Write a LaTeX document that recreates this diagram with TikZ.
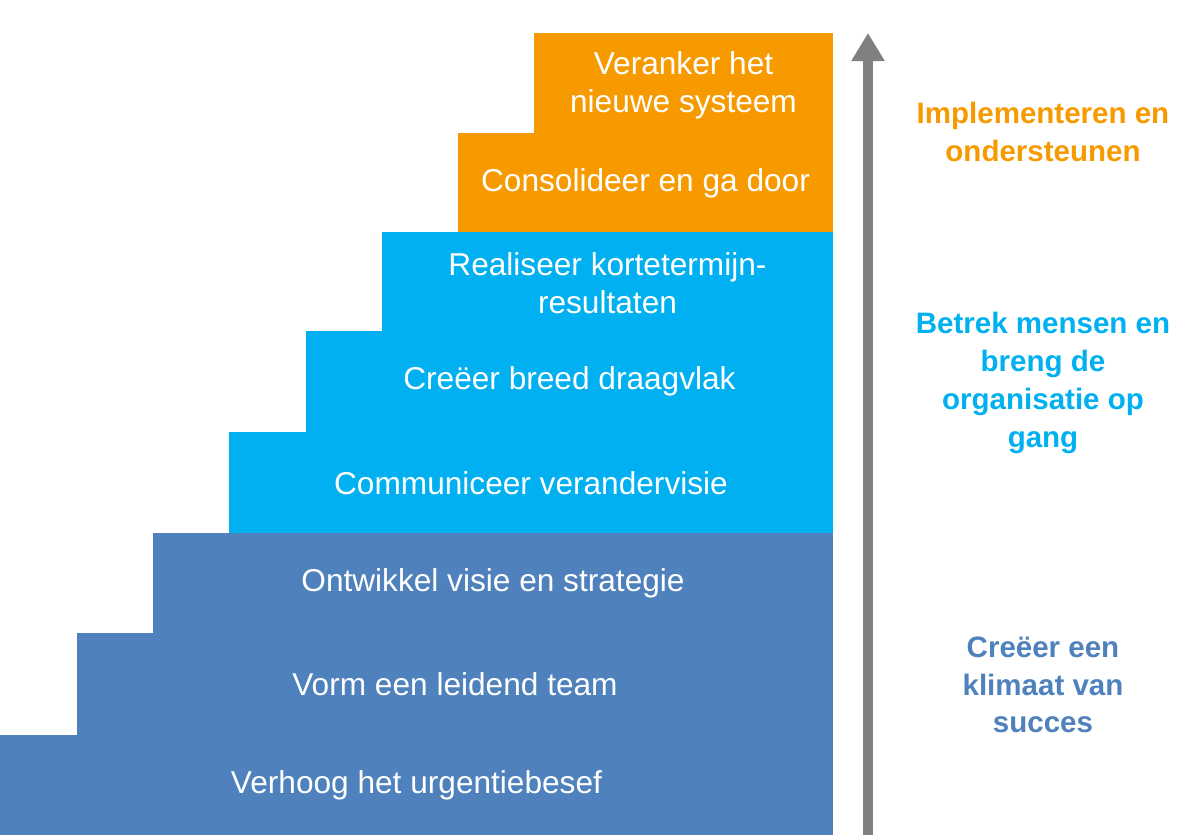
\documentclass[tikz,border=0pt]{standalone}
\usepackage{fontspec}
\setmainfont{Liberation Sans}
\usetikzlibrary{arrows.meta}
\definecolor{kdark}{HTML}{4F81BD}
\definecolor{klight}{HTML}{00B0F0}
\definecolor{korange}{HTML}{F79A00}
\definecolor{kgray}{HTML}{808080}
\tikzset{
  stair/.style={text=white, font=\fontsize{18}{21.5}\selectfont, align=center},
  phase/.style={font=\bfseries\fontsize{16.8}{21.5}\selectfont, align=center}
}
\begin{document}
\begin{tikzpicture}[x=0.02cm, y=-0.02cm]
    \useasboundingbox (0, 0) rectangle (1200, 837);
    \fill[kdark] (0, 735) rectangle (833, 835);
    \fill[kdark] (77, 633) rectangle (833, 735);
    \fill[kdark] (153, 533) rectangle (833, 633);
    \fill[klight] (229, 432) rectangle (833, 533);
    \fill[klight] (306, 331) rectangle (833, 432);
    \fill[klight] (382, 232) rectangle (833, 331);
    \fill[korange] (458, 133) rectangle (833, 232);
    \fill[korange] (534, 33) rectangle (833, 133);
    \node[stair] (s1) at (416.5, 785) {Verhoog het urgentiebesef};
    \node[stair] (s2) at (455, 684) {Vorm een leidend team};
    \node[stair] (s3) at (493, 583) {Ontwikkel visie en strategie};
    \node[stair] (s4) at (531, 483) {Communiceer verandervisie};
    \node[stair] (s5) at (569.5, 381) {Creëer breed draagvlak};
    \node[stair] (s6) at (607.5, 283) {Realiseer kortetermijn-\\resultaten};
    \node[stair] (s7) at (645.5, 183) {Consolideer en ga door};
    \node[stair] (s8) at (683.5, 85) {Veranker het\\nieuwe systeem};
    \coordinate (low) at (868, 835);
    \coordinate (high) at (868, 33);
    \draw[kgray, line width=6pt, -{Triangle[width=18pt, length=16pt]}] (low) -- (high);
    \node[phase, text=korange] (p1) at (1043, 132) {Implementeren en\\ondersteunen};
    \node[phase, text=klight] (p2) at (1043, 383) {Betrek mensen en\\breng de\\organisatie op\\gang};
    \node[phase, text=kdark] (p3) at (1043, 685) {Creëer een\\klimaat van\\succes};
\end{tikzpicture}
\end{document}
